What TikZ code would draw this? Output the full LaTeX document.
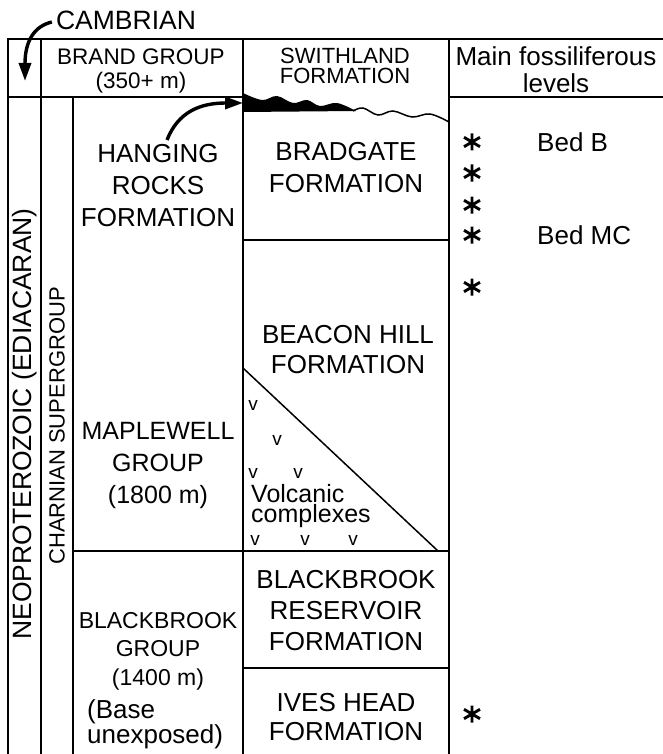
\documentclass[tikz,border=0pt]{standalone}
\usepackage{fontspec}
\setmainfont{Liberation Sans}
\usetikzlibrary{arrows.meta}
\newcommand\myfs[2]{\fontsize{#1}{#2}\selectfont}
\begin{document}
\begin{tikzpicture}[x=1pt,y=-1pt,
  tbl/.style={line width=1.8pt},
  lbl/.style={inner sep=0pt, align=center},
  body/.style={lbl, font=\myfs{26}{31}},
  head/.style={lbl, font=\myfs{22}{23}},
  vmark/.style={inner sep=0pt, font=\myfs{19}{19}},
  bigarrow/.style={line width=3.4pt, -{Triangle[length=18pt,width=12pt]}},
  astk/.pic={\draw[line width=2.9pt] (0,-8.5)--(0,8.5) (-8,-4.7)--(8,4.7) (-8,4.7)--(8,-4.7);}
]
\useasboundingbox[fill=white] (0,0) rectangle (663,754);

% grid
\draw[tbl] (8,754) -- (8,39) -- (663,39);
\draw[tbl] (8,97) -- (243,97);
\draw[tbl] (449,97) -- (663,97);
\draw[tbl] (41,39) -- (41,754);
\draw[tbl] (73,97) -- (73,754);
\draw[tbl] (243,39) -- (243,754);
\draw[tbl] (449,39) -- (449,754);
\draw[tbl] (243,240) -- (449,240);
\draw[tbl] (73,551) -- (449,551);
\draw[tbl] (243,668) -- (449,668);
\draw[line width=1.5pt] (243,368) -- (438,551);

% unconformity
\fill plot[smooth, tension=0.6] coordinates {(243,93) (262,100) (277,96) (293,103) (307,100) (320,106) (337,103) (356,111)} -- (243,112) -- cycle;
\draw[line width=1.5pt] plot[smooth, tension=0.6] coordinates {(353,111) (363,108) (378,115) (393,111) (412,117) (430,114) (449,122)};

% headers
\node[lbl, font=\myfs{26.5}{26}] (camb) at (126,20) {CAMBRIAN};
\node[head, font=\myfs{22.5}{24}] (brand) at (141,71) {BRAND GROUP\\(350+ m)};
\node[head, font=\myfs{22}{20}] (swith) at (345,66) {SWITHLAND\\FORMATION};
\node[lbl, font=\myfs{26}{27}] (fossil) at (556,70) {Main fossiliferous\\levels};

% left strips
\node[lbl, rotate=90, font=\myfs{26.5}{26}] (neo) at (25,424) {NEOPROTEROZOIC (EDIACARAN)};
\node[lbl, rotate=90, font=\myfs{22}{22}] (charn) at (57,426) {CHARNIAN SUPERGROUP};

% groups
\node[body, font=\myfs{26}{32}] (hang) at (158,186) {HANGING\\ROCKS\\FORMATION};
\node[body, font=\myfs{25}{32}] (maple) at (158,465) {MAPLEWELL\\GROUP\\(1800 m)};
\node[lbl, font=\myfs{23}{28.5}] (bbg) at (158,651) {BLACKBROOK\\GROUP\\(1400 m)};
\node[lbl, align=left, anchor=west, font=\myfs{26}{20.5}] (base) at (87,724) {(Base\\unexposed)};

% formations
\node[body, font=\myfs{26}{32}] (brad) at (346,168) {BRADGATE\\FORMATION};
\node[body, font=\myfs{26}{30}] (beacon) at (348,350) {BEACON HILL\\FORMATION};
\node[body, font=\myfs{26}{31}] (bbr) at (346,611) {BLACKBROOK\\RESERVOIR\\FORMATION};
\node[body, font=\myfs{26}{29}] (ives) at (346,717) {IVES HEAD\\FORMATION};

% volcanic
\node[inner sep=0pt, align=left, anchor=north west, font=\myfs{25}{20.5}] (volc) at (251,484) {Volcanic\\complexes};
\node[vmark] (v1) at (253,405) {v};
\node[vmark] (v2) at (277,440) {v};
\node[vmark] (v3) at (253,473) {v};
\node[vmark] (v4) at (298,473) {v};
\node[vmark] (v5) at (255,540) {v};
\node[vmark] (v6) at (305,540) {v};
\node[vmark] (v7) at (353,540) {v};

% fossil levels
\pic at (472,142) {astk};
\pic at (472,173) {astk};
\pic at (472,205) {astk};
\pic at (472,235) {astk};
\pic at (472,287) {astk};
\pic at (472,714) {astk};
\node[lbl, anchor=west, font=\myfs{26}{26}] (bedb) at (537,142) {Bed B};
\node[lbl, anchor=west, font=\myfs{26}{26}] (bedmc) at (537,235) {Bed MC};

% arrows
\coordinate (unc) at (243,103);
\coordinate (hstart) at (167,140);
\draw[bigarrow] (hstart) .. controls (178,112) and (200,103) .. (unc);
\coordinate (cend) at (25,81);
\draw[bigarrow] ([xshift=-4pt,yshift=-2pt]camb.west) .. controls (35,26) and (25,40) .. (cend);
\end{tikzpicture}
\end{document}
